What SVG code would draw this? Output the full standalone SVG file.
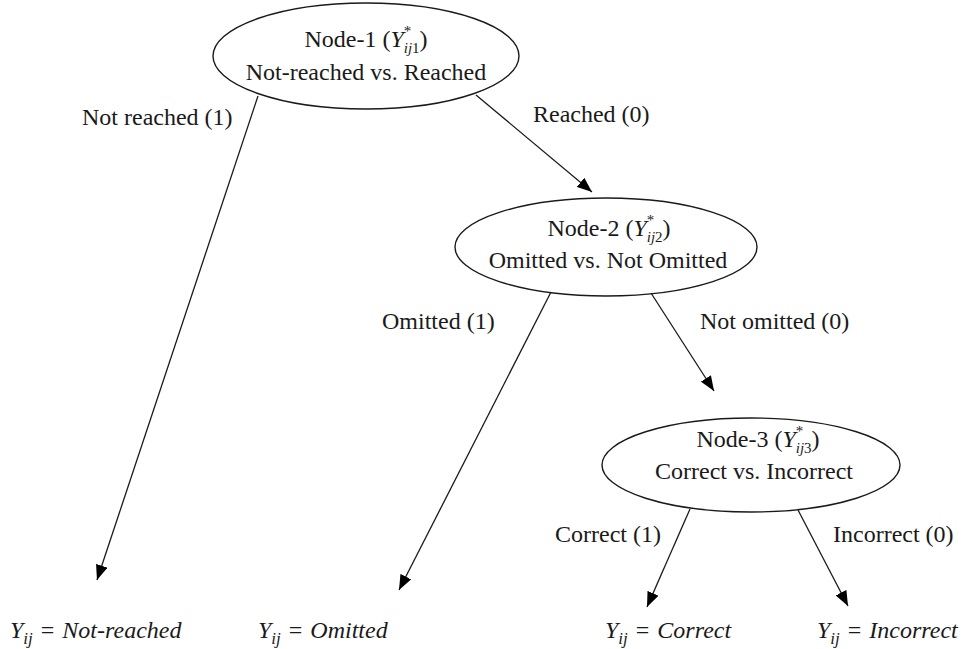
<svg xmlns="http://www.w3.org/2000/svg" width="967" height="649" viewBox="0 0 967 649">
  <style>
    .node { fill: #ffffff; stroke: #1a1a1a; stroke-width: 1.4; }
    .lbl { font-family: "Liberation Serif", "Times New Roman", serif; font-size: 24px; fill: #1a1a1a; }
    .mid { text-anchor: middle; }
    .it { font-style: italic; }
    .up { font-style: normal; }
    .sc { font-size: 15px; }
    .sb { font-size: 17px; }
    .edge { stroke: #1a1a1a; stroke-width: 1.3; fill: none; marker-end: url(#head); }
  </style>
  <defs>
    <marker id="head" markerUnits="userSpaceOnUse" markerWidth="16" markerHeight="12" refX="15" refY="6" orient="auto">
      <path d="M0,0 L15,6 L0,12 z" fill="#000000"/>
    </marker>
  </defs>

  <!-- decision nodes -->
  <g id="node1">
    <ellipse class="node" cx="366" cy="56" rx="153" ry="53"/>
    <text class="lbl mid" x="366" y="47">Node-1 (<tspan class="it">Y</tspan><tspan class="sc" dy="-11">*</tspan><tspan class="sc" dx="-7.5" dy="17"><tspan class="it">ij</tspan>1</tspan><tspan dy="-6">)</tspan></text>
    <text class="lbl mid" x="366" y="80">Not-reached vs. Reached</text>
  </g>

  <g id="node2">
    <ellipse class="node" cx="606" cy="247" rx="151" ry="49"/>
    <text class="lbl mid" x="609" y="236">Node-2 (<tspan class="it">Y</tspan><tspan class="sc" dy="-11">*</tspan><tspan class="sc" dx="-7.5" dy="17"><tspan class="it">ij</tspan>2</tspan><tspan dy="-6">)</tspan></text>
    <text class="lbl mid" x="608" y="268">Omitted vs. Not Omitted</text>
  </g>

  <g id="node3">
    <ellipse class="node" cx="751" cy="465" rx="149" ry="47"/>
    <text class="lbl mid" x="758" y="447">Node-3 (<tspan class="it">Y</tspan><tspan class="sc" dy="-11">*</tspan><tspan class="sc" dx="-7.5" dy="17"><tspan class="it">ij</tspan>3</tspan><tspan dy="-6">)</tspan></text>
    <text class="lbl mid" x="754" y="479">Correct vs. Incorrect</text>
  </g>

  <!-- outcomes -->
  <g id="out-notreached">
    <text class="lbl it" x="10" y="638">Y<tspan class="sb" dy="6">ij</tspan><tspan class="up" dx="8" dy="-6">=</tspan><tspan dx="8">Not-reached</tspan></text>
  </g>
  <g id="out-omitted">
    <text class="lbl it" x="258" y="638">Y<tspan class="sb" dy="6">ij</tspan><tspan class="up" dx="8" dy="-6">=</tspan><tspan dx="8">Omitted</tspan></text>
  </g>
  <g id="out-correct">
    <text class="lbl it" x="605" y="638">Y<tspan class="sb" dy="6">ij</tspan><tspan class="up" dx="8" dy="-6">=</tspan><tspan dx="8">Correct</tspan></text>
  </g>
  <g id="out-incorrect">
    <text class="lbl it" x="817" y="638">Y<tspan class="sb" dy="6">ij</tspan><tspan class="up" dx="8" dy="-6">=</tspan><tspan dx="8">Incorrect</tspan></text>
  </g>

  <!-- branches -->
  <g id="connectors">
    <line class="edge" x1="258" y1="96" x2="97" y2="580"/>
    <line class="edge" x1="476" y1="95" x2="592" y2="192"/>
    <line class="edge" x1="551" y1="292" x2="399" y2="590"/>
    <line class="edge" x1="651" y1="293" x2="714" y2="391"/>
    <line class="edge" x1="690" y1="509" x2="647" y2="607"/>
    <line class="edge" x1="798" y1="510" x2="848" y2="606"/>
    <text class="lbl" x="82" y="125">Not reached (1)</text>
    <text class="lbl" x="533" y="122">Reached (0)</text>
    <text class="lbl" x="382" y="329">Omitted (1)</text>
    <text class="lbl" x="700" y="329">Not omitted (0)</text>
    <text class="lbl" x="555" y="542">Correct (1)</text>
    <text class="lbl" x="833" y="542">Incorrect (0)</text>
  </g>
</svg>
